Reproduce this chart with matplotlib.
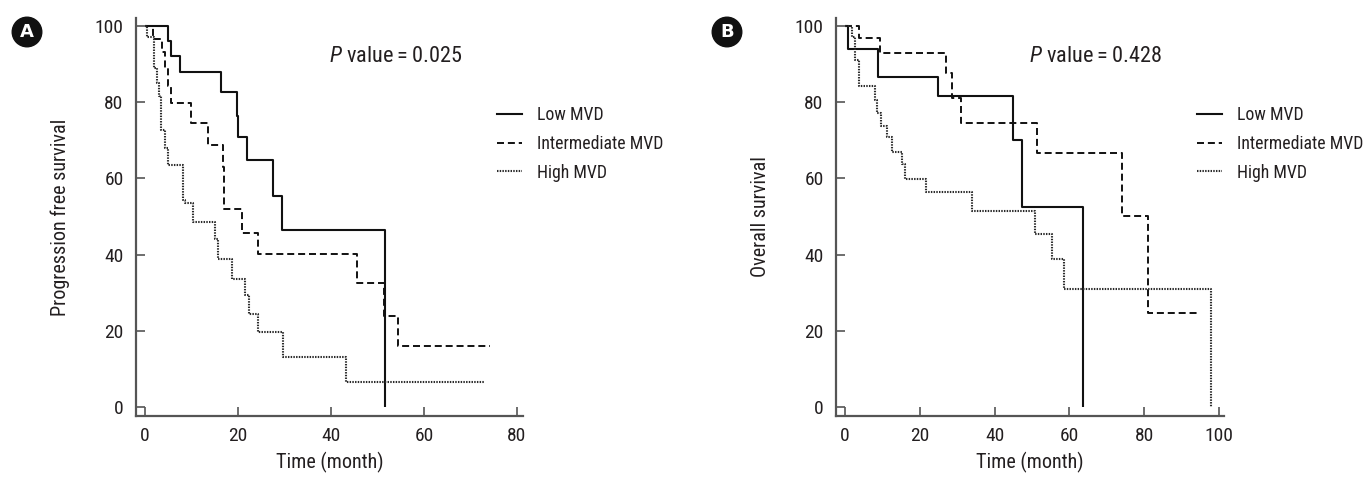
import matplotlib
matplotlib.use("Agg")
import matplotlib.pyplot as plt
from matplotlib.lines import Line2D

FAMS = ['Roboto Condensed', 'Liberation Sans Narrow', 'DejaVu Sans']
plt.rcParams['font.family'] = FAMS
plt.rcParams['font.stretch'] = 'condensed'
plt.rcParams['mathtext.fontset'] = 'custom'
plt.rcParams['mathtext.it'] = FAMS[0] + ':italic'
plt.rcParams['mathtext.rm'] = FAMS[0]

# ---------------- data ----------------
series_labels = ["Low MVD", "Intermediate MVD", "High MVD"]

# Panel A: progression free survival
a_low_t = [0, 5.0, 5.5, 7.5, 16.3, 19.7, 20.0, 22.0, 27.6, 29.5, 51.7]
a_low_s = [100, 96, 92, 88, 82.8, 76.5, 70.8, 64.8, 55.5, 46.5, 0]

a_int_t = [0, 1.8, 3.6, 4.2, 5.0, 5.6, 9.8, 13.5, 16.7, 17.0, 20.9, 24.4, 45.7, 51.3, 54.5, 74.3]
a_int_s = [100, 96.7, 93.1, 89.0, 84.2, 79.8, 74.5, 68.7, 63.1, 51.9, 45.8, 40.2, 32.5, 23.9, 16.0, 16.0]

a_high_t = [0, 0.4, 1.9, 2.5, 2.9, 3.4, 4.4, 4.9, 8.1, 8.6, 10.3, 15.05, 15.8, 18.8, 21.6, 22.4, 24.2, 29.7, 43.2, 73.1]
a_high_s = [100, 97.2, 88.9, 85.1, 81.5, 72.7, 68.1, 63.4, 54.3, 53.5, 48.6, 44.0, 38.9, 33.7, 29.4, 24.4, 19.6, 13.2, 6.6, 6.6]

# Panel B: overall survival
b_low_t = [0, 0.7, 8.7, 24.8, 45.0, 47.2, 63.5]
b_low_s = [100, 94.0, 86.5, 81.7, 70.2, 52.4, 0]

b_int_t = [0, 3.7, 9.4, 26.9, 28.7, 30.9, 51.4, 74.0, 81.0, 94.7]
b_int_s = [100, 96.8, 93.0, 87.6, 81.2, 74.5, 66.7, 50.2, 24.6, 24.6]

b_high_t = [0, 1.8, 2.7, 3.8, 8.0, 8.6, 9.6, 11.1, 12.5, 15.2, 16.0, 21.7, 33.9, 50.8, 55.4, 58.6, 97.9]
b_high_s = [100, 97.2, 91.1, 84.3, 80.6, 77.1, 73.8, 70.8, 66.8, 63.8, 59.8, 56.4, 51.5, 45.3, 38.8, 30.9, 0]

a_xticks = [0, 20, 40, 60, 80]
b_xticks = [0, 20, 40, 60, 80, 100]
yticks = [0, 20, 40, 60, 80, 100]
p_values = ["0.025", "0.428"]
ylabels = ["Progression free survival", "Overall survival"]
xlabel = "Time (month)"
panel_letters = ["A", "B"]

# ---------------- style ----------------
W, H = 1365, 482
fig = plt.figure(figsize=(W / 100, H / 100), dpi=100)
TXT = '#231f20'
SPINE = '#555555'
styles = [dict(color='#111111', lw=1.5, ls='-'),
          dict(color='#111111', lw=1.4, ls=(0, (3.6, 2.0))),
          dict(color='#2a2a2a', lw=1.5, ls=(0, (0.7, 0.6)))]

def px_ax(l, r, t, b):
    return [l / W, 1 - b / H, (r - l) / W, (b - t) / H]

axA = fig.add_axes(px_ax(136, 523, 18, 416))
axB = fig.add_axes(px_ax(836, 1224, 18, 416))

panels = [
    (axA, [(a_low_t, a_low_s), (a_int_t, a_int_s), (a_high_t, a_high_s)], a_xticks, (-1.94, 81.3)),
    (axB, [(b_low_t, b_low_s), (b_int_t, b_int_s), (b_high_t, b_high_s)], b_xticks, (-2.4, 101.3)),
]
p_pos = [(39.6, 91.9), (49.2, 91.9)]
leg_px = [(496.7, 106), (1197, 106)]
letter_px = [(27, 32), (727, 32)]

for i, (ax, data, xt, xl) in enumerate(panels):
    for (t, s), st in zip(data, styles):
        ax.step(t, s, where='post', color=st['color'], lw=st['lw'], ls=st['ls'],
                solid_capstyle='butt', dash_capstyle='butt')
    ax.set_xlim(*xl)
    ax.set_ylim(-2.36, 102.1)
    ax.set_xticks(xt)
    ax.set_yticks(yticks)
    for sp in ['top', 'right']:
        ax.spines[sp].set_visible(False)
    for sp in ['left', 'bottom']:
        ax.spines[sp].set_color(SPINE)
        ax.spines[sp].set_linewidth(1.6)
    ax.tick_params(direction='in', length=6.5, width=1.2, color=SPINE,
                   labelsize=14, labelcolor=TXT)
    ax.tick_params(axis='y', pad=9)
    ax.tick_params(axis='x', pad=8)
    ax.set_xlabel(xlabel, fontsize=14.5, color=TXT, labelpad=5)
    ax.set_ylabel(ylabels[i], fontsize=14.5, color=TXT, labelpad=18)
    ax.text(p_pos[i][0], p_pos[i][1], r'$\mathit{P}$' + ' value\u2009=\u2009' + p_values[i],
            fontsize=16, color=TXT, ha='left', va='center')
    handles = [Line2D([], [], color=st['color'], lw=st['lw'], ls=st['ls']) for st in styles]
    lx, ly = leg_px[i]
    ax.legend(handles, series_labels, loc='upper left',
              bbox_to_anchor=(lx / W, 1 - ly / H), bbox_transform=fig.transFigure,
              frameon=False, borderpad=0, borderaxespad=0, fontsize=12.8,
              handlelength=1.4, handletextpad=0.84, labelspacing=0.61,
              labelcolor=TXT)
    cx, cy = letter_px[i]
    fig.text(cx / W, 1 - cy / H, panel_letters[i], ha='center', va='center',
             color='white', fontsize=13, fontweight='bold', family='DejaVu Sans',
             fontstretch='normal',
             bbox=dict(boxstyle='circle,pad=0.32', fc='#111111', ec='#111111'))

fig.savefig('out.png', dpi=100)
